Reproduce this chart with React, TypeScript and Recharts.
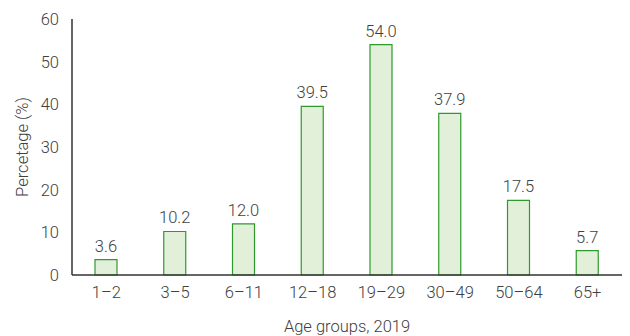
import { Bar, BarChart, LabelList, XAxis, YAxis } from "recharts";

const ageGroups = ["1–2", "3–5", "6–11", "12–18", "19–29", "30–49", "50–64", "65+"];
const shares = [3.6, 10.2, 12.0, 39.5, 54.0, 37.9, 17.5, 5.7];
const yTicks = [0, 10, 20, 30, 40, 50, 60];

const data = ageGroups.map((group, i) => ({ group, share: shares[i] }));

const FONT = "Roboto, 'Noto Sans', sans-serif";
const INK = "#404040";
const TEXT = { fill: INK, fontSize: 16.5, fontWeight: 300 };

export default function App() {
  return (
    <div style={{ position: "absolute", left: 0, top: 0, fontFamily: FONT }}>
      <BarChart
        data={data}
        height={336}
        margin={{ top: 19, right: 8, bottom: 0, left: 0 }}
        width={630}
      >
        <XAxis
          axisLine={{ stroke: "#333", strokeWidth: 1.5 }}
          dataKey="group"
          height={61}
          label={{
            value: "Age groups, 2019",
            position: "insideBottom",
            offset: 4,
            ...TEXT,
          }}
          tick={TEXT}
          tickLine={false}
          tickMargin={5}
        />
        <YAxis
          axisLine={{ stroke: "#333", strokeWidth: 1.5 }}
          domain={[0, 60]}
          label={{
            value: "Percetage (%)",
            angle: -90,
            position: "insideLeft",
            offset: 22,
            ...TEXT,
            style: { textAnchor: "middle" },
          }}
          tick={TEXT}
          tickLine={false}
          tickMargin={7}
          ticks={yTicks}
          width={72}
        />
        <Bar
          barSize={22}
          dataKey="share"
          fill="#e3f0d9"
          isAnimationActive={false}
          stroke="#2e9a2e"
          strokeWidth={1.2}
        >
          <LabelList
            dataKey="share"
            formatter={(v: number) => v.toFixed(1)}
            offset={8}
            position="top"
            {...TEXT}
          />
        </Bar>
      </BarChart>
    </div>
  );
}
